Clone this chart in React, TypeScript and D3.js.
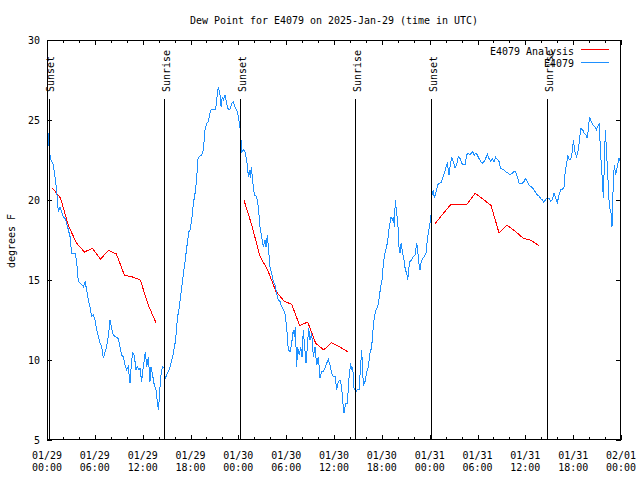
import React from "react";
import * as d3 from "d3";

const TITLE = "Dew Point for E4079 on 2025-Jan-29 (time in UTC)";
const Y_LABEL = "degrees F";
const START_MS = Date.UTC(2025, 0, 29, 0, 0);
const END_MS = Date.UTC(2025, 1, 1, 0, 0);
const Y_DOMAIN = [5, 30];
const Y_TICKS = [5, 10, 15, 20, 25, 30];

const SERIES_NAMES = ["E4079 Analysis", "E4079"];
const SERIES_COLORS = ["#ff0000", "#1e90ff"];

// sun events (hours after 01/29 00:00 UTC)
const sunLabels = ["Sunset", "Sunrise", "Sunset", "Sunrise", "Sunset", "Sunrise"];
const sunHours = [0.19, 14.71, 24.25, 38.67, 48.21, 62.76];

// observed dew point (hours after 01/29 00:00 UTC)
const obsHours = [
  0.17, 0.29, 0.5, 0.79, 1.0, 1.21, 1.42, 1.63, 1.84, 2.05, 2.26, 2.47, 2.68, 2.89, 3.09, 3.51, 3.72, 3.93, 4.22, 4.56,
  4.77, 4.98, 5.19, 5.39, 5.6, 5.81, 6.02, 6.23, 6.44, 6.65, 6.86, 7.07, 7.28, 7.48, 7.69, 7.9, 8.11, 8.32, 8.53, 8.95,
  9.16, 9.37, 9.58, 9.78, 9.99, 10.2, 10.41, 10.62, 10.75, 10.95, 11.16, 11.33, 11.54, 11.67, 11.87, 12.08, 12.34, 12.5, 12.71, 12.92,
  13.05, 13.21, 13.42, 13.67, 13.84, 13.97, 14.09, 14.26, 14.47, 14.68, 14.84, 15.01, 15.22, 15.43, 15.64, 15.85, 16.06, 16.18, 16.27, 16.39,
  16.6, 16.81, 17.02, 17.23, 17.44, 17.65, 17.81, 17.94, 18.15, 18.36, 18.57, 18.77, 18.9, 19.11, 19.4, 19.61, 19.82, 20.03, 20.24, 20.45,
  20.57, 20.87, 21.16, 21.28, 21.49, 21.7, 21.83, 21.99, 22.12, 22.33, 22.54, 22.75, 22.96, 23.16, 23.37, 23.58, 23.79, 24.0, 24.13, 24.29,
  24.42, 24.63, 24.84, 25.05, 25.26, 25.38, 25.51, 25.63, 25.8, 26.01, 26.3, 26.51, 26.72, 26.93, 27.14, 27.35, 27.47, 27.64, 27.81, 27.97,
  28.18, 28.39, 28.6, 28.81, 29.02, 29.23, 29.44, 29.65, 29.85, 30.06, 30.27, 30.48, 30.69, 30.9, 31.03, 31.15, 31.32, 31.44, 31.65, 31.82,
  31.99, 32.15, 32.32, 32.49, 32.66, 32.82, 32.99, 33.2, 33.41, 33.62, 33.83, 34.04, 34.25, 34.45, 34.66, 34.87, 35.08, 35.29, 35.5, 35.71,
  35.92, 36.13, 36.34, 36.54, 36.75, 36.96, 37.09, 37.26, 37.46, 37.67, 37.88, 38.09, 38.22, 38.34, 38.51, 38.72, 38.93, 39.14, 39.26, 39.47,
  39.68, 39.89, 40.1, 40.31, 40.52, 40.73, 40.85, 41.06, 41.27, 41.48, 41.69, 41.85, 42.06, 42.19, 42.4, 42.61, 42.82, 42.94, 43.15, 43.32,
  43.44, 43.57, 43.69, 43.86, 43.99, 44.15, 44.28, 44.41, 44.61, 44.78, 44.95, 45.12, 45.24, 45.41, 45.53, 45.74, 45.95, 46.16, 46.37, 46.5,
  46.62, 46.79, 46.91, 47.12, 47.33, 47.54, 47.71, 47.83, 47.96, 48.13, 48.21, 48.25, 48.46, 48.59, 48.75, 48.88, 49.01, 49.17, 49.42, 49.63,
  49.84, 50.05, 50.22, 50.43, 50.55, 50.76, 50.97, 51.18, 51.39, 51.6, 51.81, 52.02, 52.22, 52.43, 52.64, 52.85, 53.06, 53.27, 53.4, 53.6,
  53.77, 53.98, 54.19, 54.4, 54.61, 54.82, 55.03, 55.24, 55.44, 55.65, 55.86, 56.07, 56.28, 56.49, 56.7, 56.91, 57.12, 57.33, 57.53, 57.74,
  57.95, 58.16, 58.37, 58.58, 58.79, 59.0, 59.21, 59.42, 59.63, 59.83, 60.04, 60.25, 60.46, 60.67, 60.88, 61.09, 61.3, 61.51, 61.72, 61.92,
  62.13, 62.34, 62.55, 62.76, 62.97, 63.18, 63.39, 63.6, 63.81, 64.02, 64.22, 64.43, 64.64, 64.85, 65.02, 65.19, 65.31, 65.48, 65.69, 65.9,
  66.02, 66.23, 66.44, 66.65, 66.86, 66.98, 67.19, 67.4, 67.61, 67.78, 67.95, 68.07, 68.28, 68.49, 68.7, 68.91, 69.08, 69.28, 69.41, 69.58,
  69.79, 69.91, 70.04, 70.2, 70.37, 70.54, 70.75, 70.87, 71.04, 71.17, 71.33, 71.54, 71.75, 71.95,
];
const obsValues = [
  24.17, 23.02, 22.5, 22.19, 21.46, 20.63, 19.27, 19.58, 19.27, 18.96, 18.85, 18.54, 18.13, 17.71, 16.67, 16.67, 16.15, 14.9, 14.79, 14.58,
  14.9, 14.38, 13.75, 13.33, 12.71, 12.81, 12.5, 11.88, 11.46, 11.04, 10.83, 10.1, 10.52, 10.83, 11.46, 12.5, 11.98, 11.56, 11.46, 11.35,
  10.83, 10.31, 10.2, 9.69, 9.38, 9.58, 8.54, 10.0, 10.42, 10.31, 9.38, 9.58, 9.38, 9.48, 8.65, 9.58, 10.52, 9.58, 10.2, 8.65,
  9.58, 9.17, 8.54, 8.13, 7.4, 6.88, 7.6, 8.96, 9.58, 9.54, 8.85, 9.06, 9.27, 9.58, 10.0, 10.42, 11.04, 11.56, 12.08, 12.71,
  13.33, 14.17, 15.0, 15.83, 16.67, 17.5, 18.02, 18.13, 18.75, 19.79, 20.42, 21.25, 22.5, 22.71, 22.81, 23.13, 24.38, 24.79, 24.9, 25.42,
  25.63, 25.67, 25.67, 26.25, 27.08, 26.56, 25.83, 26.46, 26.25, 26.56, 26.04, 25.63, 25.67, 26.04, 26.15, 25.83, 25.63, 25.21, 24.79, 24.17,
  23.02, 23.13, 23.02, 22.5, 21.46, 21.88, 21.4, 22.08, 21.15, 20.31, 20.21, 19.58, 18.33, 17.71, 17.08, 17.5, 17.08, 17.81, 16.77, 15.83,
  15.42, 14.9, 14.69, 14.17, 13.75, 13.65, 13.33, 13.13, 12.92, 12.08, 10.63, 10.52, 11.04, 11.88, 11.46, 12.08, 9.58, 10.83, 10.31, 10.83,
  10.2, 11.88, 10.83, 9.79, 10.83, 11.98, 11.25, 11.67, 10.2, 10.83, 9.69, 10.2, 8.85, 9.27, 9.27, 9.48, 9.79, 10.04, 9.69, 9.17,
  8.96, 8.96, 8.13, 8.65, 8.75, 8.33, 7.4, 6.67, 7.29, 7.29, 8.85, 9.79, 9.38, 9.58, 8.23, 8.02, 8.13, 8.13, 9.06, 10.63,
  8.44, 8.65, 9.27, 9.58, 10.42, 10.83, 11.67, 12.71, 13.13, 13.33, 13.96, 14.58, 15.1, 16.04, 16.67, 17.08, 17.81, 18.33, 18.96, 18.75,
  18.96, 18.33, 20.0, 19.17, 18.75, 17.08, 16.67, 17.29, 16.67, 16.25, 15.63, 15.42, 15.0, 15.83, 16.15, 16.25, 16.46, 16.56, 17.29, 16.88,
  16.15, 15.63, 16.04, 16.35, 16.46, 16.67, 17.5, 17.92, 18.33, 18.75, 19.38, 20.21, 20.63, 20.1, 20.42, 20.63, 20.94, 21.04, 21.08, 21.35,
  21.67, 22.08, 22.29, 21.56, 22.08, 22.71, 22.4, 21.98, 22.19, 22.71, 22.6, 22.29, 22.19, 22.19, 22.81, 22.92, 22.81, 22.96, 23.02, 22.81,
  22.92, 22.81, 22.6, 22.4, 22.29, 22.4, 22.6, 22.88, 22.6, 22.4, 22.56, 22.4, 22.67, 22.54, 22.4, 21.98, 21.92, 21.88, 21.77, 21.71,
  21.63, 21.6, 21.67, 21.77, 21.77, 21.46, 21.04, 21.0, 21.04, 21.15, 21.35, 21.15, 20.94, 20.83, 20.79, 20.63, 20.46, 20.31, 20.25, 20.1,
  20.0, 19.85, 20.04, 20.1, 20.1, 19.9, 20.04, 20.42, 20.1, 19.85, 20.31, 20.63, 20.63, 20.83, 21.88, 22.29, 22.81, 22.54, 22.54, 23.02,
  23.75, 23.02, 22.71, 23.13, 24.06, 24.48, 24.38, 24.17, 24.06, 23.85, 24.69, 25.21, 24.9, 24.69, 24.58, 24.38, 24.58, 24.79, 23.13, 21.88,
  20.1, 22.29, 24.38, 22.92, 21.25, 19.58, 19.17, 18.33, 21.25, 22.19, 21.56, 22.08, 22.6, 22.4,
];

// analysis (hourly, one segment per night)
const analysisStartHours = [0.7, 24.7, 48.7];
const analysisNight1 = [20.73, 20.12, 18.38, 17.31, 16.75, 16.98, 16.3, 16.85, 16.63, 15.31, 15.19, 15.0, 13.44, 12.29];
const analysisNight2 = [20.0, 18.4, 16.5, 15.6, 14.3, 13.7, 13.47, 12.15, 12.37, 11.05, 10.63, 11.08, 10.83, 10.52];
const analysisNight3 = [18.54, 19.15, 19.75, 19.75, 19.75, 20.42, 20.05, 19.66, 17.94, 18.42, 18.06, 17.62, 17.48, 17.15];

const FONT = "'DejaVu Sans Mono', 'Liberation Mono', monospace";
const CHAR_W = 6;

function MonoText(props: {
  x: number; y: number; text: string; anchor?: string; rotate?: boolean; fill?: string;
}) {
  const { x, y, text, anchor = "start", rotate = false, fill = "#000" } = props;
  const common = {
    fontFamily: FONT,
    fontSize: 11,
    textLength: text.length * CHAR_W,
    lengthAdjust: "spacingAndGlyphs",
    textAnchor: anchor,
    fill,
  } as any;
  if (rotate) {
    return (
      <text transform={`translate(${x},${y}) rotate(-90)`} x={0} y={0} {...common}>
        {text}
      </text>
    );
  }
  return (
    <text x={x} y={y} {...common}>
      {text}
    </text>
  );
}

export default function App() {
  const W = 640, H = 480;
  const L = 47, R = 621, T = 40, B = 440;
  const hourToDate = (h: number) => new Date(START_MS + h * 3600 * 1000);

  const x = d3.scaleUtc().domain([new Date(START_MS), new Date(END_MS)]).range([L, R]);
  const y = d3.scaleLinear().domain(Y_DOMAIN).range([B, T]);

  const majorTicks = x.ticks(d3.utcHour.every(6) as any);
  const minorTicks = x.ticks(d3.utcHour.every(2) as any).filter((d) => d.getUTCHours() % 6 !== 0);
  const fmtDate = d3.utcFormat("%m/%d");
  const fmtTime = d3.utcFormat("%H:%M");

  const line = d3
    .line<[number, number]>()
    .x((d) => x(hourToDate(d[0])))
    .y((d) => y(d[1]));

  const obsPts: [number, number][] = obsHours.map((h, i) => [h, obsValues[i]]);
  const nights = [analysisNight1, analysisNight2, analysisNight3];
  const analysisPaths = nights.map((vals, k) =>
    line(vals.map((v, i) => [analysisStartHours[k] + i, v] as [number, number]))
  );

  const px = (v: number) => Math.round(v) + 0.5;

  return (
    <svg
      width={W}
      height={H}
      style={{ position: "absolute", left: 0, top: 0, background: "#fff" }}
      xmlns="http://www.w3.org/2000/svg"
    >
      <rect x={0} y={0} width={W} height={H} fill="#fff" />
      <MonoText x={(L + R) / 2} y={24} text={TITLE} anchor="middle" />

      {/* y ticks and labels */}
      {Y_TICKS.map((t) => (
        <g key={"y" + t}>
          <line x1={L} x2={L + 5} y1={px(y(t))} y2={px(y(t))} stroke="#000" shapeRendering="crispEdges" />
          <line x1={R - 5} x2={R} y1={px(y(t))} y2={px(y(t))} stroke="#000" shapeRendering="crispEdges" />
          <MonoText x={40} y={y(t) + 4} text={String(t)} anchor="end" />
        </g>
      ))}
      <MonoText x={14.5} y={241} text={Y_LABEL} anchor="middle" rotate />

      {/* x ticks */}
      {majorTicks.map((d, i) => (
        <g key={"xm" + i}>
          <line x1={px(x(d))} x2={px(x(d))} y1={B} y2={B - 5} stroke="#000" shapeRendering="crispEdges" />
          <line x1={px(x(d))} x2={px(x(d))} y1={T} y2={T + 5} stroke="#000" shapeRendering="crispEdges" />
          <MonoText x={x(d)} y={458.5} text={fmtDate(d)} anchor="middle" />
          <MonoText x={x(d)} y={471} text={fmtTime(d)} anchor="middle" />
        </g>
      ))}
      {minorTicks.map((d, i) => (
        <g key={"xn" + i}>
          <line x1={px(x(d))} x2={px(x(d))} y1={B} y2={B - 3} stroke="#000" shapeRendering="crispEdges" />
          <line x1={px(x(d))} x2={px(x(d))} y1={T} y2={T + 3} stroke="#000" shapeRendering="crispEdges" />
        </g>
      ))}

      {/* data */}
      {analysisPaths.map((p, i) => (
        <path key={"a" + i} d={p || ""} fill="none" stroke={SERIES_COLORS[0]} strokeWidth={1} shapeRendering="crispEdges" />
      ))}
      <path d={line(obsPts) || ""} fill="none" stroke={SERIES_COLORS[1]} strokeWidth={1} shapeRendering="crispEdges" />

      {/* sun events */}
      {sunHours.map((h, i) => {
        const sx = x(hourToDate(h));
        return (
          <g key={"s" + i}>
            <line x1={px(sx)} x2={px(sx)} y1={99} y2={B} stroke="#000" shapeRendering="crispEdges" />
            <MonoText x={sx + 5.5} y={92} text={sunLabels[i]} anchor="start" rotate />
          </g>
        );
      })}

      {/* legend */}
      <MonoText x={574} y={54.5} text={SERIES_NAMES[0]} anchor="end" />
      <line x1={581} x2={609} y1={49.5} y2={49.5} stroke={SERIES_COLORS[0]} shapeRendering="crispEdges" />
      <MonoText x={574} y={66.5} text={SERIES_NAMES[1]} anchor="end" />
      <line x1={581} x2={609} y1={62.5} y2={62.5} stroke={SERIES_COLORS[1]} shapeRendering="crispEdges" />

      {/* frame */}
      <rect x={L + 0.5} y={T + 0.5} width={R - L - 1} height={B - T - 1} fill="none" stroke="#000" shapeRendering="crispEdges" />
    </svg>
  );
}
